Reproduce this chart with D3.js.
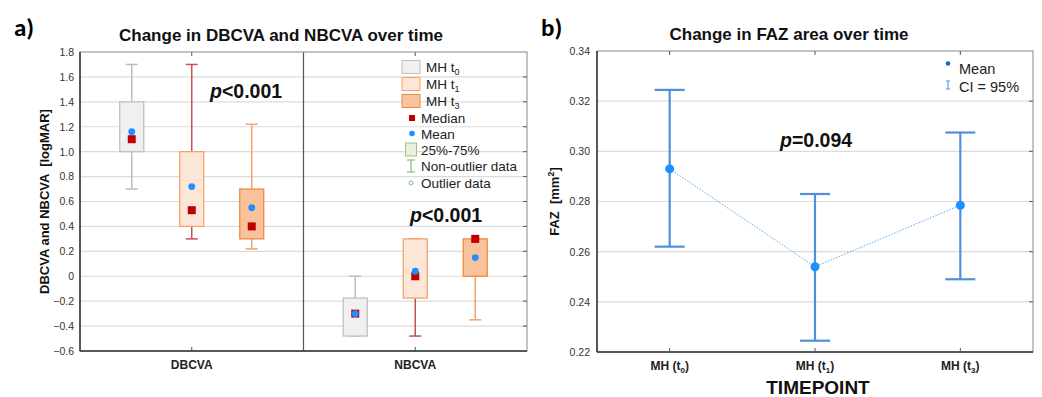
<!DOCTYPE html>
<html><head><meta charset="utf-8">
<script src="https://cdn.jsdelivr.net/npm/d3@7"></script>
<style>body{margin:0;background:#fff;font-family:Arial,"Liberation Sans",sans-serif}</style>
</head><body><svg id="c" width="1042" height="397"></svg>
<script>
// ---- Panel a data ----
const measures = ["DBCVA", "NBCVA"];
const timepoints = ["MH t0", "MH t1", "MH t3"];
const whiskerLow  = [[0.70, 0.30, 0.22], [-0.48, -0.48, -0.35]];
const boxLow      = [[1.00, 0.40, 0.30], [-0.48, -0.175, 0.00]];
const boxHigh     = [[1.40, 1.00, 0.70], [-0.175, 0.30, 0.30]];
const whiskerHigh = [[1.70, 1.70, 1.22], [0.00, 0.30, 0.30]];
const medians     = [[1.10, 0.53, 0.40], [-0.30, 0.00, 0.30]];
const means       = [[1.16, 0.72, 0.55], [-0.30, 0.04, 0.15]];
const yTicksA = [1.8, 1.6, 1.4, 1.2, 1.0, 0.8, 0.6, 0.4, 0.2, 0, -0.2, -0.4, -0.6];

// ---- Panel b data ----
const fazCats = ["t0", "t1", "t3"];
const fazMean = [0.293, 0.254, 0.2785];
const fazLow  = [0.262, 0.2245, 0.249];
const fazHigh = [0.3245, 0.283, 0.3075];
const yTicksB = [0.34, 0.32, 0.30, 0.28, 0.26, 0.24, 0.22];

const svg = d3.select("#c");
const boxFill = ["#f0f0f0", "#fce6d8", "#f8c29a"];
const boxStroke = ["#c0c0c0", "#f4a46c", "#f08a3e"];
const whiskColor = ["#bdbdbd", "#c85050", "#f4a46c"];

// ===== Panel a =====
const A = {l: 80, r: 527, t: 52, b: 351};
const ya = d3.scaleLinear().domain([-0.6, 1.8]).range([A.b, A.t]);
const xa = d3.scaleBand().domain(measures).range([A.l, A.r]);
const offs = d3.scalePoint().domain(timepoints).range([-60, 60]);

const ga = svg.append("g");
ga.selectAll("line.grid").data(yTicksA.slice(1, -1)).join("line")
  .attr("x1", A.l).attr("x2", A.r).attr("y1", d => ya(d)).attr("y2", d => ya(d))
  .attr("stroke", "#dcdcdc").attr("stroke-width", 1.2);
const axA = d3.axisLeft(ya).tickValues(yTicksA).tickSize(0).tickPadding(6)
  .tickFormat(d => d === 0 ? "0" : d3.format(".1f")(d));
const gAx = ga.append("g").attr("transform", `translate(${A.l},0)`).call(axA);
gAx.select(".domain").remove();
gAx.selectAll("text").attr("font-size", 10.5).attr("fill", "#333").attr("font-family", "Arial");
ga.selectAll("line.rt").data(yTicksA.slice(1, -1)).join("line")
  .attr("x1", A.r - 4).attr("x2", A.r).attr("y1", d => ya(d)).attr("y2", d => ya(d))
  .attr("stroke", "#555");
ga.append("line").attr("x1", xa("NBCVA")).attr("x2", xa("NBCVA")).attr("y1", A.t).attr("y2", A.b)
  .attr("stroke", "#555").attr("stroke-width", 1.2);
measures.forEach(m => {
  const cx = xa(m) + xa.bandwidth() / 2;
  ga.append("line").attr("x1", cx).attr("x2", cx).attr("y1", A.b).attr("y2", A.b - 4).attr("stroke", "#555");
  ga.append("line").attr("x1", cx).attr("x2", cx).attr("y1", A.t).attr("y2", A.t + 4).attr("stroke", "#555");
  ga.append("text").attr("x", cx).attr("y", 369).attr("text-anchor", "middle")
    .attr("font-size", 12).attr("font-weight", "bold").attr("fill", "#222").text(m);
});
const boxW = 24, capW = 10;
measures.forEach((m, mi) => {
  const cx0 = xa(m) + xa.bandwidth() / 2;
  timepoints.forEach((t, ti) => {
    const cx = cx0 + offs(t);
    const g = ga.append("g");
    g.append("line").attr("x1", cx).attr("x2", cx).attr("y1", ya(whiskerHigh[mi][ti])).attr("y2", ya(boxHigh[mi][ti]))
      .attr("stroke", whiskColor[ti]).attr("stroke-width", 1.5);
    g.append("line").attr("x1", cx).attr("x2", cx).attr("y1", ya(boxLow[mi][ti])).attr("y2", ya(whiskerLow[mi][ti]))
      .attr("stroke", whiskColor[ti]).attr("stroke-width", 1.5);
    [whiskerHigh[mi][ti], whiskerLow[mi][ti]].forEach(v => {
      g.append("line").attr("x1", cx - capW / 2 - 1).attr("x2", cx + capW / 2 + 1).attr("y1", ya(v)).attr("y2", ya(v))
        .attr("stroke", whiskColor[ti]).attr("stroke-width", 1.5);
    });
    g.append("rect").attr("x", cx - boxW / 2).attr("width", boxW)
      .attr("y", ya(boxHigh[mi][ti])).attr("height", ya(boxLow[mi][ti]) - ya(boxHigh[mi][ti]))
      .attr("fill", boxFill[ti]).attr("stroke", boxStroke[ti]).attr("stroke-width", 1.3);
    g.append("rect").attr("x", cx - 4).attr("y", ya(medians[mi][ti]) - 4).attr("width", 8).attr("height", 8)
      .attr("fill", "#c00000");
    g.append("circle").attr("cx", cx).attr("cy", ya(means[mi][ti])).attr("r", 3.4).attr("fill", "#1e8fff");
  });
});
ga.append("rect").attr("x", A.l).attr("y", A.t).attr("width", A.r - A.l).attr("height", A.b - A.t)
  .attr("fill", "none").attr("stroke", "#888").attr("stroke-width", 1);
ga.append("line").attr("x1", A.l).attr("x2", A.l).attr("y1", A.t).attr("y2", A.b).attr("stroke", "#333").attr("stroke-width", 1.5);
ga.append("line").attr("x1", A.l).attr("x2", A.r).attr("y1", A.b).attr("y2", A.b).attr("stroke", "#333").attr("stroke-width", 1.5);

// legend a
const leg = ga.append("g");
const legX = 402, fsL = 13.5;
const boxRows = [{y: 67, t: "0"}, {y: 84, t: "1"}, {y: 101, t: "3"}];
boxRows.forEach((r, i) => {
  leg.append("rect").attr("x", legX).attr("y", r.y - 6.5).attr("width", 18).attr("height", 13)
    .attr("fill", boxFill[i]).attr("stroke", boxStroke[i]).attr("stroke-width", 1);
  const tx = leg.append("text").attr("x", 426).attr("y", r.y + 4.5).attr("font-size", fsL).attr("fill", "#222");
  tx.append("tspan").text("MH t");
  tx.append("tspan").attr("font-size", 9).attr("dy", 3).text(r.t);
});
leg.append("rect").attr("x", 409).attr("y", 115).attr("width", 6).attr("height", 6).attr("fill", "#c00000");
leg.append("text").attr("x", 421).attr("y", 122.5).attr("font-size", fsL).attr("fill", "#222").text("Median");
leg.append("circle").attr("cx", 412).attr("cy", 133.5).attr("r", 2.8).attr("fill", "#1e8fff");
leg.append("text").attr("x", 421).attr("y", 138.5).attr("font-size", fsL).attr("fill", "#222").text("Mean");
leg.append("rect").attr("x", 405.5).attr("y", 143).attr("width", 11).attr("height", 13)
  .attr("fill", "#e6f0dc").attr("stroke", "#9cc48c");
leg.append("text").attr("x", 421).attr("y", 154.5).attr("font-size", fsL).attr("fill", "#222").text("25%-75%");
leg.append("line").attr("x1", 411).attr("x2", 411).attr("y1", 160).attr("y2", 172).attr("stroke", "#5cb85c");
leg.append("line").attr("x1", 407).attr("x2", 415).attr("y1", 160).attr("y2", 160).attr("stroke", "#5cb85c");
leg.append("line").attr("x1", 407).attr("x2", 415).attr("y1", 172).attr("y2", 172).attr("stroke", "#5cb85c");
leg.append("text").attr("x", 421).attr("y", 171).attr("font-size", fsL).attr("fill", "#222").text("Non-outlier data");
leg.append("circle").attr("cx", 411).attr("cy", 183).attr("r", 2).attr("fill", "none").attr("stroke", "#7cc47c");
leg.append("text").attr("x", 421).attr("y", 187.5).attr("font-size", fsL).attr("fill", "#222").text("Outlier data");

function pText(g, x, y, rest, size) {
  const t = g.append("text").attr("x", x).attr("y", y).attr("font-size", size).attr("font-weight", "bold").attr("fill", "#111");
  t.append("tspan").attr("font-style", "italic").text("p");
  t.append("tspan").text(rest);
}
pText(ga, 210, 98, "<0.001", 19.5);
pText(ga, 410, 222, "<0.001", 19.5);

svg.append("text").attr("x", 281).attr("y", 41).attr("text-anchor", "middle").attr("font-size", 17)
  .attr("font-weight", "bold").attr("fill", "#111").text("Change in DBCVA and NBCVA over time");
svg.append("text").attr("x", 14).attr("y", 36).attr("font-size", 25).attr("font-weight", "bold")
  .attr("font-family", "Calibri,Carlito,'Liberation Sans',Arial").attr("fill", "#000").text("a)");
svg.append("text").attr("transform", `translate(49,${(A.t + A.b) / 2}) rotate(-90)`).attr("text-anchor", "middle")
  .attr("font-size", 13).attr("font-weight", "bold").attr("fill", "#111").attr("xml:space", "preserve")
  .text("DBCVA and NBCVA  [logMAR]");

// ===== Panel b =====
const B = {l: 597, r: 1033, t: 51, b: 352};
const yb = d3.scaleLinear().domain([0.22, 0.34]).range([B.b, B.t]);
const xb = d3.scalePoint().domain(fazCats).range([B.l, B.r]).padding(0.5);
const gb = svg.append("g");
gb.selectAll("line.grid").data(yTicksB.slice(1, -1)).join("line")
  .attr("x1", B.l).attr("x2", B.r).attr("y1", d => yb(d)).attr("y2", d => yb(d))
  .attr("stroke", "#dcdcdc").attr("stroke-width", 1.2);
const axB = d3.axisLeft(yb).tickValues(yTicksB).tickSize(0).tickPadding(7).tickFormat(d3.format(".2f"));
const gAxB = gb.append("g").attr("transform", `translate(${B.l},0)`).call(axB);
gAxB.select(".domain").remove();
gAxB.selectAll("text").attr("font-size", 10.5).attr("fill", "#333").attr("font-family", "Arial");
gb.selectAll("line.rt").data(yTicksB.slice(1, -1)).join("line")
  .attr("x1", B.r - 4).attr("x2", B.r).attr("y1", d => yb(d)).attr("y2", d => yb(d)).attr("stroke", "#555");
gb.append("rect").attr("x", B.l).attr("y", B.t).attr("width", B.r - B.l).attr("height", B.b - B.t)
  .attr("fill", "none").attr("stroke", "#888").attr("stroke-width", 1);
gb.append("line").attr("x1", B.l).attr("x2", B.l).attr("y1", B.t).attr("y2", B.b).attr("stroke", "#333").attr("stroke-width", 1.5);
gb.append("line").attr("x1", B.l).attr("x2", B.r).attr("y1", B.b).attr("y2", B.b).attr("stroke", "#333").attr("stroke-width", 1.5);
fazCats.forEach(c => {
  const cx = xb(c);
  gb.append("line").attr("x1", cx).attr("x2", cx).attr("y1", B.b).attr("y2", B.b - 4).attr("stroke", "#555");
  gb.append("line").attr("x1", cx).attr("x2", cx).attr("y1", B.t).attr("y2", B.t + 4).attr("stroke", "#555");
  const t = gb.append("text").attr("x", cx).attr("y", 370).attr("text-anchor", "middle").attr("font-size", 12)
    .attr("font-weight", "bold").attr("fill", "#222");
  t.append("tspan").text("MH (t");
  t.append("tspan").attr("font-size", 8).attr("dy", 2.5).text(c.slice(1));
  t.append("tspan").attr("dy", -2.5).text(")");
});
gb.append("path").datum(fazCats)
  .attr("d", d3.line().x(c => xb(c)).y((c, i) => yb(fazMean[i])))
  .attr("fill", "none").attr("stroke", "#5aa8f0").attr("stroke-width", 1).attr("stroke-dasharray", "1.5,1.5");
fazCats.forEach((c, i) => {
  const cx = xb(c);
  const col = "#4f8fdc";
  gb.append("line").attr("x1", cx).attr("x2", cx).attr("y1", yb(fazHigh[i])).attr("y2", yb(fazLow[i]))
    .attr("stroke", col).attr("stroke-width", 2.2);
  [fazHigh[i], fazLow[i]].forEach(v => gb.append("line").attr("x1", cx - 15).attr("x2", cx + 15)
    .attr("y1", yb(v)).attr("y2", yb(v)).attr("stroke", col).attr("stroke-width", 2.2));
  gb.append("circle").attr("cx", cx).attr("cy", yb(fazMean[i])).attr("r", 4.5).attr("fill", "#1e8fff");
});
gb.append("circle").attr("cx", 948).attr("cy", 63.5).attr("r", 2.3).attr("fill", "#1f5fc8");
gb.append("text").attr("x", 959).attr("y", 73.5).attr("font-size", 14.5).attr("fill", "#222").text("Mean");
gb.append("line").attr("x1", 948).attr("x2", 948).attr("y1", 81).attr("y2", 89).attr("stroke", "#4f8fdc");
gb.append("line").attr("x1", 946).attr("x2", 950).attr("y1", 81).attr("y2", 81).attr("stroke", "#4f8fdc");
gb.append("line").attr("x1", 946).attr("x2", 950).attr("y1", 89).attr("y2", 89).attr("stroke", "#4f8fdc");
gb.append("text").attr("x", 959).attr("y", 92).attr("font-size", 14.5).attr("fill", "#222").text("CI = 95%");
pText(gb, 780, 147, "=0.094", 19.5);

svg.append("text").attr("x", 789).attr("y", 40).attr("text-anchor", "middle").attr("font-size", 17)
  .attr("font-weight", "bold").attr("fill", "#111").text("Change in FAZ area over time");
svg.append("text").attr("x", 541).attr("y", 36).attr("font-size", 25).attr("font-weight", "bold")
  .attr("font-family", "Calibri,Carlito,'Liberation Sans',Arial").attr("fill", "#000").text("b)");
const yl = svg.append("text").attr("transform", `translate(559,${(B.t + B.b) / 2}) rotate(-90)`).attr("text-anchor", "middle")
  .attr("font-size", 13).attr("font-weight", "bold").attr("fill", "#111").attr("xml:space", "preserve");
yl.append("tspan").text("FAZ  [mm");
yl.append("tspan").attr("font-size", 9).attr("dy", -5).text("2");
yl.append("tspan").attr("dy", 5).text("]");
svg.append("text").attr("x", 818).attr("y", 394).attr("text-anchor", "middle").attr("font-size", 19)
  .attr("font-weight", "bold").attr("fill", "#111").text("TIMEPOINT");
</script></body></html>
